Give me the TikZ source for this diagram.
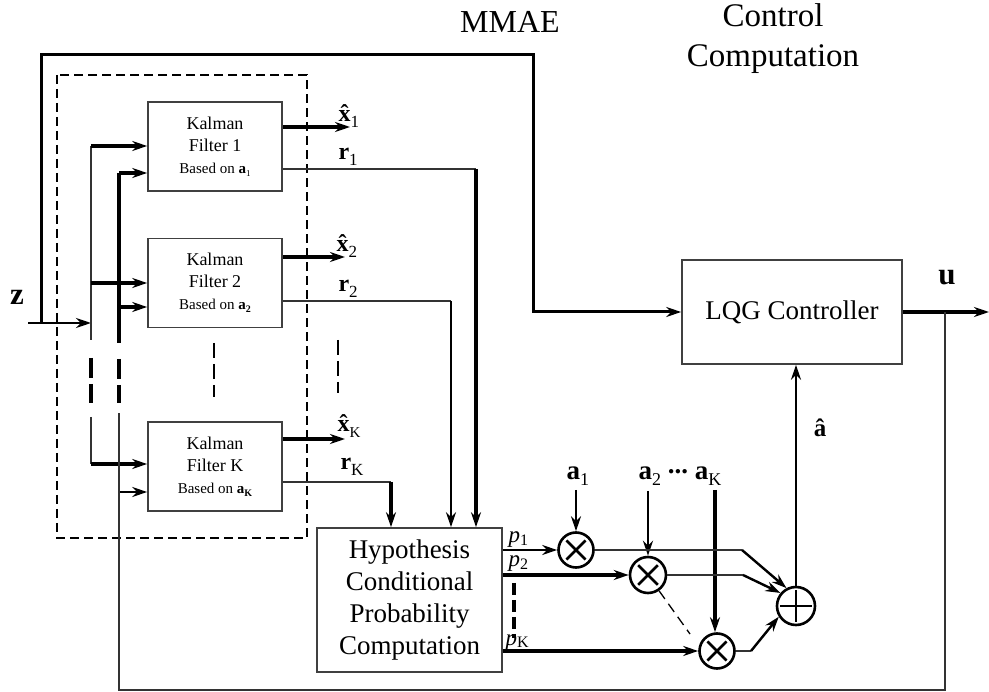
\documentclass[tikz,border=0pt]{standalone}
\usepackage{fontspec}
\setmainfont{Liberation Serif}
\usetikzlibrary{arrows.meta,calc}
\newcommand{\fsz}[2]{\fontsize{#1}{#2}\selectfont}
\newcommand{\lowsub}[3][0.22em]{\raisebox{-#1}{\fsz{#2}{#2}#3}}
\newcommand{\hatb}[1]{\setbox0=\hbox{\textbf{#1}}\rlap{\hbox to\wd0{\hss\textbf{^^^^02c6}\hss}}\box0}
\begin{document}
\begin{tikzpicture}[x=1pt,y=-1pt,
  >={Stealth[length=15pt,width=10pt,inset=5pt]},
  thinl/.style={line width=1.4pt,draw=black!80},
  midl/.style={line width=2.4pt},
  thickl/.style={line width=3.3pt},
  box/.style={draw=black!75,line width=1.6pt,rectangle,inner sep=0pt},
  kfbox/.style={box,minimum width=134pt,minimum height=89pt,align=center,font=\fsz{18}{22}},
  mult/.style={circle,draw,line width=2.6pt,minimum size=35pt,inner sep=0pt},
  lbl/.style={anchor=base west,font=\fsz{24}{24}},
  plbl/.style={anchor=base west,font=\fsz{23}{23}},
  dsh/.style={dash pattern=on 9pt off 5pt}]
\useasboundingbox (0,0) rectangle (989,692);

% titles
\node[anchor=base,font=\fsz{32}{32}] (mmae) at (510,33) {MMAE};
\node[anchor=base,font=\fsz{33}{33}] (cc1) at (773,27) {Control};
\node[anchor=base,font=\fsz{33}{33}] (cc2) at (773,67) {Computation};

% Kalman filters
\node[kfbox] (kf1) at (215,146.5) {Kalman\\Filter 1\\{\fsz{15}{20}Based on \textbf{a}\lowsub{9}{1}}};
\node[kfbox] (kf2) at (215,283) {Kalman\\Filter 2\\{\fsz{15}{20}Based on \textbf{a}\lowsub{10}{\textbf{2}}}};
\node[kfbox] (kfk) at (215,466.5) {Kalman\\Filter K\\{\fsz{15}{20}Based on \textbf{a}\lowsub{10}{\textbf{K}}}};

% dashed group
\draw[line width=2.8pt,dsh] (57,75) rectangle (307,538);

% hypothesis and LQG
\node[box,minimum width=185pt,minimum height=144pt,align=center,font=\fsz{27}{32}] (hyp) at (409.5,600) {Hypothesis\\Conditional\\Probability\\Computation};
\node[box,minimum width=220pt,minimum height=104pt,font=\fsz{27}{32}] (lqg) at (792,312) {LQG Controller};

% multipliers and sum
\node[mult] (m1) at (576,550) {};
\node[mult,minimum size=36pt] (m2) at (648,575) {};
\node[mult] (mk) at (717,651) {};
\node[mult,minimum size=38pt] (sum) at (796,606) {};
\foreach \n in {m1,m2,mk}{
  \draw[line width=2.6pt] ($(\n.center)!0.72!(\n.45)$) -- ($(\n.center)!0.72!(\n.225)$);
  \draw[line width=2.6pt] ($(\n.center)!0.72!(\n.135)$) -- ($(\n.center)!0.72!(\n.315)$);
}
\draw[line width=2.6pt] ($(sum.center)!0.8!(sum.west)$) -- ($(sum.center)!0.8!(sum.east)$);
\draw[line width=2.6pt] ($(sum.center)!0.8!(sum.north)$) -- ($(sum.center)!0.8!(sum.south)$);

% z input
\node[anchor=base,font=\bfseries\fsz{31}{31}] (zl) at (17,305) {z};
\coordinate (zin) at (28,323);
\coordinate (l1z) at (91,323);
\draw[midl,->] (zin) -- (l1z);

% MMAE thick path to LQG
\coordinate (t0) at (41,323);
\coordinate (tc) at (533,55);
\draw[line width=3pt,->] (t0) |- (tc) |- (lqg.west);

% distribution line 1
\coordinate (l1a) at (91,146);
\coordinate (l1m) at (91,283);
\coordinate (l1b) at (91,340);
\coordinate (l1c) at (91,358);
\coordinate (l1d) at (91,403);
\coordinate (l1e) at (91,417);
\coordinate (l1f) at (91,464);
\draw[thinl] (l1a) -- (l1b);
\draw[thickl,dash pattern=on 20pt off 6pt] (l1c) -- (l1d);
\draw[thinl] (l1e) -- (l1f);
\draw[thickl,->] (l1a) -- (kf1.west |- l1a);
\draw[thickl,->] (l1m) -- (kf2.west |- l1m);
\draw[thickl,->] (l1f) -- (kfk.west |- l1f);

% distribution line 2
\coordinate (l2a) at (119,173);
\coordinate (l2m) at (119,307);
\coordinate (l2b) at (119,343);
\coordinate (l2c) at (119,359);
\coordinate (l2d) at (119,403);
\coordinate (l2e) at (119,413);
\coordinate (l2f) at (119,492);
\coordinate (l2g) at (119,690);
\draw[thickl] (l2a) -- (l2b);
\draw[thickl,dash pattern=on 20pt off 6pt] (l2c) -- (l2d);
\draw[thickl,->] (l2a) -- (kf1.west |- l2a);
\draw[thickl,->] (l2m) -- (kf2.west |- l2m);
\draw[midl,->] (l2f) -- (kfk.west |- l2f);

% output u and feedback
\coordinate (uend) at (989,312);
\coordinate (fb) at (945,312);
\coordinate (fbb) at (945,690);
\draw[thickl,->] (lqg.east) -- (uend);
\node[anchor=base,font=\bfseries\fsz{31}{31}] (ul) at (947,285) {u};
\draw[thinl] (fb) -- (fbb) -- (l2g) -- (l2e);

% Kalman filter outputs
\coordinate (x1e) at (350,127);
\coordinate (x2e) at (345,257);
\coordinate (xke) at (345,439);
\coordinate (r1c) at (476,169);
\coordinate (r2c) at (451,301);
\coordinate (rkc) at (391,482);
\draw[thickl,->] (kf1.east |- x1e) -- (x1e);
\draw[thickl,->] (kf2.east |- x2e) -- (x2e);
\draw[thickl,->] (kfk.east |- xke) -- (xke);
\draw[thinl] (kf1.east |- r1c) -- (r1c);
\draw[thinl] (kf2.east |- r2c) -- (r2c);
\draw[thinl] (kfk.east |- rkc) -- (rkc);
\draw[thickl,->] (r1c) -- (hyp.north -| r1c);
\draw[midl,->] (r2c) -- (hyp.north -| r2c);
\draw[thickl,->] (rkc) -- (hyp.north -| rkc);

\node[lbl] (x1l) at (335,122) {\hatb{x}\lowsub{17}{1}};
\node[lbl] (r1l) at (335,160) {\textbf{r}\lowsub{17}{1}};
\node[lbl] (x2l) at (333,252) {\hatb{x}\lowsub{17}{2}};
\node[lbl] (r2l) at (335,292) {\textbf{r}\lowsub{17}{2}};
\node[lbl] (xkl) at (334,432) {\hatb{x}\lowsub{15}{K}};
\node[lbl] (rkl) at (337,470) {\textbf{r}\lowsub{17}{K}};

% dashed ellipsis marks
\coordinate (d1a) at (214,343); \coordinate (d1b) at (214,397);
\coordinate (d2a) at (338,340); \coordinate (d2b) at (338,393);
\coordinate (d3a) at (514,583); \coordinate (d3b) at (514,638);
\coordinate (d4b) at (690,634);
\draw[line width=1.3pt,dash pattern=on 15pt off 6pt] (d1a) -- (d1b);
\draw[line width=1.3pt,dash pattern=on 15pt off 6pt] (d2a) -- (d2b);
\draw[thickl,dash pattern=on 12pt off 5pt] (d3a) -- (d3b);
\draw[line width=1.3pt,dash pattern=on 10pt off 6pt] (m2.-55) -- (d4b);

% probabilities
\draw[line width=1.9pt,->] (hyp.east |- m1) -- (m1);
\draw[thickl,->] (hyp.east |- m2) -- (m2);
\draw[thickl,->] (hyp.east |- mk) -- (mk);
\node[plbl] (p1l) at (505,543) {\textit{p}\lowsub[0.1em]{16}{1}};
\node[plbl] (p2l) at (505,567) {\textit{p}\lowsub[0.1em]{16}{2}};
\node[plbl] (pkl) at (502,645) {\textit{p}\lowsub[0.1em]{16}{K}};

% hypothesis vectors a
\node[anchor=base west,font=\fsz{27}{27}] (a1l) at (563,480) {\textbf{a}\lowsub{18}{1}};
\node[anchor=base west,font=\fsz{27}{27}] (a2l) at (635,480) {\textbf{a}\lowsub{18}{2} \raisebox{0.25em}{\textbf{...}} \textbf{a}\lowsub{18}{K}};
\coordinate (a1s) at (576,490);
\coordinate (a2s) at (648,491);
\coordinate (aks) at (715,490);
\draw[midl,->] (a1s) -- (m1);
\draw[midl,->] (a2s) -- (m2);
\draw[thickl,->] (aks) -- (aks |- mk.north);

% into sum
\coordinate (s1) at (742,550);
\coordinate (s2) at (743,575);
\coordinate (s3) at (751,651);
\draw[thinl] (m1.east) -- (s1);
\draw[thinl] (m2.east) -- (s2);
\draw[thinl] (mk.east) -- (s3);
\draw[midl,->] (s1) -- (sum.118);
\draw[midl,->] (s2) -- (sum.140);
\draw[midl,->] (s3) -- (sum.212);

% sum to LQG
\draw[midl,->] (sum.north) -- (lqg.south -| sum.north);
\node[anchor=base,font=\fsz{25}{25}] (ahat) at (820,437) {\hatb{a}};
\end{tikzpicture}
\end{document}
